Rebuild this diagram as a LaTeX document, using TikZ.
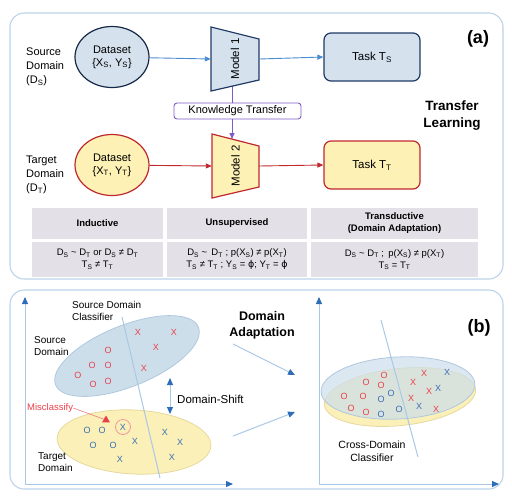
\documentclass[tikz,border=0pt]{standalone}
\usepackage{fontspec}
\setmainfont{Liberation Sans}
\newfontfamily\dejavu{DejaVu Sans}
\usetikzlibrary{shapes.geometric,arrows.meta}
\newcommand\dsub[1]{\textsubscript{#1}}
\definecolor{panelc}{HTML}{BCD3EA}
\definecolor{bluefill}{HTML}{D5E2EE}
\definecolor{navy}{HTML}{1F3A64}
\definecolor{redc}{HTML}{C0282D}
\definecolor{yellowfill}{HTML}{FDF1B5}
\definecolor{arrowblue}{HTML}{4B8BD0}
\definecolor{purplec}{HTML}{7D5CC9}
\definecolor{tablefill}{HTML}{E3E0E8}
\definecolor{xred}{HTML}{E8404A}
\definecolor{xblue}{HTML}{3B6EB5}
\definecolor{axisdark}{HTML}{2E6DB8}
\definecolor{axislight}{HTML}{A9C8E6}
\definecolor{ellblue}{HTML}{CDDEEB}
\definecolor{ellblueb}{HTML}{AFC8E0}
\definecolor{ellyel}{HTML}{FAF0B8}
\definecolor{ellyelb}{HTML}{E6D9A0}
\tikzset{
  panel/.style={draw=panelc, line width=1.1pt, rounded corners=14pt},
  lbl/.style={inner sep=0pt, align=left, font=\fontsize{11}{14}\selectfont},
  dsell/.style={ellipse, draw, line width=1.2pt, minimum width=74pt, minimum height=61pt, inner sep=0pt, align=center, font=\fontsize{11}{13}\selectfont},
  taskbox/.style={draw, line width=1.2pt, rounded corners=7pt, minimum width=96pt, minimum height=48pt, font=\fontsize{11.5}{13}\selectfont},
  barrow/.style={draw=arrowblue, line width=0.9pt, -{Triangle[length=6pt,width=5pt]}},
  rarrow/.style={draw=redc, line width=0.9pt, -{Triangle[length=6pt,width=5pt]}},
  parrow/.style={draw=purplec, line width=0.9pt, -{Triangle[length=6pt,width=5pt]}},
  cellbox/.style={fill=tablefill, inner sep=0pt, align=center, font=\fontsize{9.5}{12}\selectfont},
  axisln/.style={draw=axislight, line width=1pt, -{Triangle[length=7pt,width=6pt,color=axisdark,fill=axisdark]}},
  darrow/.style={draw=axislight, line width=1pt, -{Triangle[length=7pt,width=6pt,color=axisdark,fill=axisdark]}},
  rx/.style={text=xred, inner sep=0pt, font=\fontsize{9}{9}\selectfont},
  bx/.style={text=xblue, inner sep=0pt, font=\fontsize{9}{9}\selectfont},
  small/.style={inner sep=0pt, align=left, font=\fontsize{10}{12}\selectfont},
}
\begin{document}
\begin{tikzpicture}[x=1pt,y=-1pt]
\useasboundingbox (0,0) rectangle (512,499);
% panels
\draw[panel] (10,13) rectangle (503,279);
\draw[panel] (10,290) rectangle (503,489);

% ===== panel (a) =====
\node[lbl, anchor=north west] (srclbl) at (26,48) {Source\\Domain\\(D\dsub{S})};
\node[lbl, anchor=north west] (tgtlbl) at (26,156) {Target\\Domain\\(D\dsub{T})};

\node[dsell, draw=navy!70!black, fill=bluefill] (dss) at (112,57) {Dataset\\\{X\dsub{S}, Y\dsub{S}\}};
\node[dsell, draw=redc, fill=yellowfill] (dst) at (112,165) {Dataset\\\{X\dsub{T}, Y\dsub{T}\}};

% knowledge transfer links (drawn under the models)
\coordinate (m1b) at (232,86);
\coordinate (m2t) at (232,139);
\node[draw=purplec, line width=0.9pt, fill=white, rounded corners=3pt, minimum width=127pt, minimum height=16pt, inner sep=0pt, font=\fontsize{11}{13}\selectfont] (kt) at (237.5,111) {Knowledge Transfer};
\draw[draw=purplec, line width=0.9pt] (m1b) -- (m1b |- kt.north);
\draw[parrow] (m2t |- kt.south) -- (m2t);

% models
\draw[draw=navy, fill=bluefill, line width=1.2pt, line join=miter] (211,27) -- (259,39) -- (259,80) -- (211,91) -- cycle;
\node[minimum width=48pt, minimum height=64pt, inner sep=0pt] (m1) at (235,59) {};
\node[rotate=90, inner sep=0pt, font=\fontsize{11.5}{13}\selectfont] (m1t) at (235,59) {Model 1};
\draw[draw=redc, fill=yellowfill, line width=1.2pt, line join=miter] (212,134) -- (259,146) -- (259,187) -- (212,198) -- cycle;
\node[minimum width=47pt, minimum height=64pt, inner sep=0pt] (m2) at (235.5,166) {};
\node[rotate=90, inner sep=0pt, font=\fontsize{11.5}{13}\selectfont] (m2t2) at (235.5,166) {Model 2};

\node[taskbox, draw=navy, fill=bluefill] (ts) at (372,57) {Task T\dsub{S}};
\node[taskbox, draw=redc, fill=yellowfill] (tt) at (372,165) {Task T\dsub{T}};

\draw[barrow] (dss) -- (m1.west);
\draw[barrow] (m1.east) -- (ts.west);
\draw[rarrow] (dst) -- (m2.west);
\draw[rarrow] (m2.east) -- (tt.west);

\node[inner sep=0pt, font=\bfseries\fontsize{18}{20}\selectfont] (alab) at (478,39) {(a)};
\node[inner sep=0pt, align=center, font=\bfseries\fontsize{13.5}{17}\selectfont] (tl) at (452,116) {Transfer\\Learning};

% table
\node[cellbox, minimum width=131pt, minimum height=31pt, font=\bfseries\fontsize{9.5}{12}\selectfont] (h1) at (97.5,223.5) {Inductive};
\node[cellbox, minimum width=140pt, minimum height=31pt, font=\bfseries\fontsize{9.5}{12}\selectfont] (h2) at (237,223.5) {Unsupervised};
\node[cellbox, minimum width=167pt, minimum height=31pt, font=\bfseries\fontsize{9.5}{12}\selectfont] (h3) at (394.5,223.5) {Transductive\\(Domain Adaptation)};
\node[cellbox, minimum width=131pt, minimum height=35pt] (c1) at (97.5,259.5) {D\dsub{S} \textasciitilde{} D\dsub{T} or D\dsub{S} ≠ D\dsub{T}\\T\dsub{S} ≠ T\dsub{T}};
\node[cellbox, minimum width=140pt, minimum height=35pt] (c2) at (237,259.5) {D\dsub{S} \textasciitilde{}\, D\dsub{T} ; p(X\dsub{S}) ≠ p(X\dsub{T})\\T\dsub{S} ≠ T\dsub{T} ; Y\dsub{S} = {\dejavu ϕ}; Y\dsub{T} = {\dejavu ϕ}};
\node[cellbox, minimum width=167pt, minimum height=35pt] (c3) at (394.5,259.5) {D\dsub{S} \textasciitilde{} D\dsub{T} ;\, p(X\dsub{S}) ≠ p(X\dsub{T})\\T\dsub{S} = T\dsub{T}};

% ===== panel (b) =====
% left axes
\coordinate (o1) at (25,484);
\coordinate (y1) at (25,297);
\coordinate (x1) at (233,484);
\draw[axisln] (o1) -- (y1);
\draw[axisln] (o1) -- (x1);

\node[ellipse, fill=ellblue, draw=ellblueb, line width=0.8pt, minimum width=154pt, minimum height=61pt, rotate=22] (sell) at (127,356) {};
\node[ellipse, fill=ellyel, draw=ellyelb, line width=0.8pt, minimum width=154pt, minimum height=64pt, rotate=-3] (tell) at (134,442) {};

\coordinate (sc1) at (122,317);
\coordinate (sc2) at (160,478);
\draw[draw=axislight, line width=1pt] (sc1) -- (sc2);

\node[small, anchor=north west] (sdc) at (72,301) {Source Domain\\Classifier};
\node[small, anchor=north west] (sdl) at (34,336) {Source\\Domain};
\node[small, anchor=north west] (tdl) at (38,452) {Target\\Domain};

% source points
\node[rx] (so1) at (108,350) {O};
\node[rx] (so2) at (92,365) {O};
\node[rx] (so3) at (108,365) {O};
\node[rx] (so4) at (78,375) {O};
\node[rx] (so5) at (93,384) {O};
\node[rx] (so6) at (108,381) {O};
\node[rx] (sx1) at (138,332) {X};
\node[rx] (sx2) at (174,332) {X};
\node[rx] (sx3) at (156,347) {X};
\node[rx] (sx4) at (144,368) {X};
% target points
\node[bx] (to1) at (87,430) {O};
\node[bx] (to2) at (102,430) {O};
\node[bx] (to3) at (93,445) {O};
\node[bx] (to4) at (113,445) {O};
\node[bx] (tx0) at (123,427) {X};
\node[bx] (tx1) at (135,441) {X};
\node[bx] (tx2) at (165,432) {X};
\node[bx] (tx3) at (180,442) {X};
\node[bx] (tx4) at (172,457) {X};
\node[bx] (tx5) at (120,459) {X};
\node[circle, draw=xred!55, line width=0.8pt, minimum size=15pt, inner sep=0pt] (mc) at (123,427) {};

% misclassify
\node[inner sep=0pt, anchor=west, text=xred, font=\fontsize{9.5}{11}\selectfont] (mis) at (27,408) {Misclassify};
\node[regular polygon, regular polygon sides=3, fill=xred, minimum size=9pt, inner sep=0pt] (tri) at (106,420) {};
\draw[draw=xred!70, line width=0.6pt] (mis.east) -- (tri);

% domain shift
\coordinate (ds1) at (170,378);
\coordinate (ds2) at (170,414);
\draw[draw=axislight, line width=1pt, {Triangle[length=7pt,width=6pt,color=axisdark,fill=axisdark]}-{Triangle[length=7pt,width=6pt,color=axisdark,fill=axisdark]}] (ds1) -- (ds2);
\node[inner sep=0pt, anchor=west, font=\fontsize{11.5}{13}\selectfont] (dsl) at (177,399) {Domain-Shift};

% domain adaptation
\node[inner sep=0pt, align=center, font=\bfseries\fontsize{12.5}{16}\selectfont] (da) at (262,325) {Domain\\Adaptation};
\coordinate (a1s) at (233,344);
\coordinate (a1e) at (295,375);
\coordinate (a2s) at (233,436);
\coordinate (a2e) at (295,412);
\draw[darrow] (a1s) -- (a1e);
\draw[darrow] (a2s) -- (a2e);

% right axes
\coordinate (o2) at (319,484);
\coordinate (y2) at (319,297);
\coordinate (x2) at (499,484);
\draw[axisln] (o2) -- (y2);
\draw[axisln] (o2) -- (x2);

\node[ellipse, fill=ellyel, draw=ellyelb, line width=0.8pt, minimum width=152pt, minimum height=57pt, rotate=6] (yell) at (400,397) {};
\node[ellipse, fill=ellblue, fill opacity=0.7, draw=ellblueb, line width=0.8pt, minimum width=154pt, minimum height=62pt, rotate=3] (bell) at (398,388) {};

\coordinate (cc1) at (381,320);
\coordinate (cc2) at (418,457);
\draw[draw=axislight, line width=1pt] (cc1) -- (cc2);
\node[small, align=center, font=\fontsize{10.5}{13}\selectfont] (cdc) at (372,451) {Cross-Domain\\Classifier};

\node[rx] (ro1) at (384,375) {O};
\node[rx] (ro2) at (366,382) {O};
\node[rx] (ro3) at (381,385) {O};
\node[rx] (ro4) at (344,396) {O};
\node[rx] (ro5) at (363,396) {O};
\node[rx] (ro6) at (351,408) {O};
\node[rx] (ro7) at (366,412) {O};
\node[bx] (bo1) at (391,393) {O};
\node[bx] (bo2) at (381,399) {O};
\node[bx] (bo3) at (399,409) {O};
\node[bx] (bo4) at (381,414) {O};
\node[rx] (rx1) at (424,373) {X};
\node[rx] (rx2) at (413,382) {X};
\node[rx] (rx3) at (429,391) {X};
\node[rx] (rx4) at (411,398) {X};
\node[rx] (rx5) at (436,409) {X};
\node[bx] (bx1) at (447,372) {X};
\node[bx] (bx2) at (438,388) {X};
\node[bx] (bx3) at (419,406) {X};

\node[inner sep=0pt, font=\bfseries\fontsize{18}{20}\selectfont] (blab) at (479,328) {(b)};
\end{tikzpicture}
\end{document}
